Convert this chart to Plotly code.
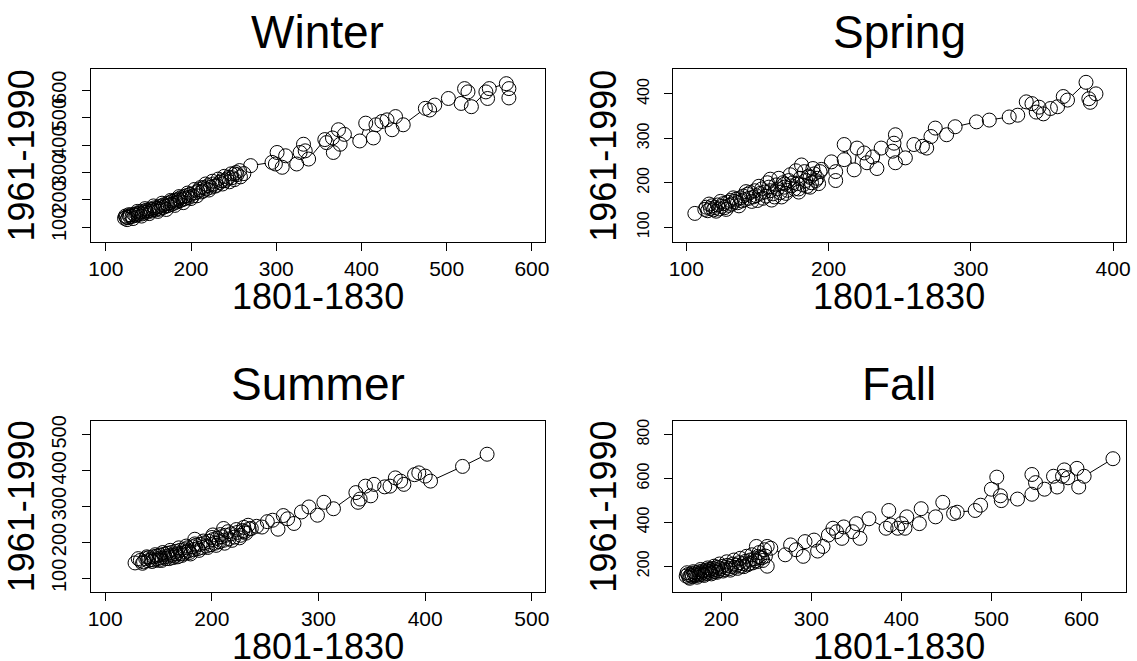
import plotly.graph_objects as go

# ---------------- data ----------------
winter_x = [122,123,124,125,126,128,129,131,133,135,136,138,140,141,143,145,147,148,150,152,153,155,157,158,160,162,163,165,167,168,170,172,173,175,177,178,180,182,183,185,187,188,190,192,193,195,197,199,202,205,208,210,212,215,218,220,223,226,230,234,237,240,242,245,248,251,254,258,262,
            127,132,137,142,146,151,156,161,166,171,176,181,186,191,196,200,204,207,211,214,217,221,225,228,232,236,239,244,247,253,
            251,257,270,295,299,301,307,311,324,328,332,334,338,357,359,366,367,373,375,380,398,405,414,417,424,430,436,440,449,475,480,486,502,517,521,525,529,546,548,550,570,573,573]
winter_y = [133,141,137,128,135,139,145,140,147,143,150,146,152,158,149,156,162,155,160,167,159,165,171,163,169,175,166,178,172,182,176,186,179,190,184,195,188,199,192,203,197,208,201,212,205,216,209,220,214,226,231,238,229,245,240,252,246,258,253,264,258,270,276,266,281,274,292,284,296,
            146,132,158,141,168,150,178,158,188,165,198,180,212,190,225,205,238,215,245,232,258,236,268,250,276,270,286,282,295,300,
            295,307,325,337,331,373,319,361,331,373,403,379,349,420,409,426,373,456,403,439,415,480,426,474,486,492,456,504,474,534,528,546,570,552,606,594,540,594,570,606,624,606,572]

spring_x = [106,113,114,115,117,118,119,120,122,123,125,126,127,129,130,131,132,134,135,136,138,139,140,141,143,144,145,147,148,149,150,152,153,155,156,158,159,161,163,164,166,168,169,171,172,174,176,178,180,182,184,186,188,190,192,194,
            116,121,124,128,133,137,142,146,151,154,157,162,165,170,173,175,179,183,185,189,191,193,
            159,160,167,169,177,179,181,187,187,195,202,205,205,211,211,218,220,225,227,231,234,237,245,246,247,247,254,260,266,269,272,275,283,289,304,313,327,333,339,343,346,348,351,356,361,365,368,381,383,384,388]
spring_y = [131,140,145,137,142,148,139,144,150,141,147,153,144,156,149,160,152,158,163,155,166,159,170,162,174,165,178,168,182,171,160,176,186,179,170,190,182,175,195,186,178,200,190,183,205,193,186,198,210,195,205,215,200,220,210,225,
            152,136,158,140,166,148,180,158,192,165,200,168,210,176,218,200,186,225,192,232,205,198,
            208,161,168,197,227,179,240,190,212,230,247,205,225,252,286,229,278,267,245,258,232,278,271,289,308,245,256,286,282,278,304,323,308,326,337,341,348,352,382,378,359,370,355,367,371,394,386,426,389,381,400]

summer_x = [128,133,136,138,140,141,143,145,146,148,149,151,152,153,155,156,158,159,160,162,163,164,166,167,168,170,171,172,174,175,177,178,180,182,183,185,187,189,191,193,195,197,199,201,203,205,207,209,211,213,216,218,221,224,227,229,232,235,
            131,135,139,144,147,150,154,157,161,165,169,173,176,179,184,188,192,196,200,204,208,212,215,219,223,226,230,
            184,201,211,231,234,237,242,247,252,257,262,267,271,277,284,291,299,305,314,335,337,339,344,349,352,362,367,372,377,380,390,394,400,405,435,458]
summer_y = [143,150,146,155,149,158,152,160,151,162,155,165,157,150,167,160,170,162,155,172,165,158,175,168,160,178,170,164,180,173,185,176,168,188,180,192,183,195,186,199,190,203,194,208,198,212,202,216,206,220,210,224,215,228,220,233,226,238,
            155,142,160,147,166,150,172,155,178,162,185,168,190,172,196,178,204,186,214,192,222,198,230,206,236,213,242,
            209,221,239,230,248,239,245,243,258,262,237,275,266,253,285,299,276,312,294,339,312,321,357,330,362,355,357,380,371,362,389,394,385,371,412,446]

fall_x = [161,163,164,166,167,168,170,171,172,174,175,176,178,179,180,182,183,184,186,187,188,190,191,193,194,196,197,199,201,203,205,207,209,211,213,215,217,220,222,224,227,229,232,235,237,240,243,246,249,
          162,165,169,173,177,181,185,189,192,195,198,202,206,210,214,218,221,225,228,231,234,238,242,245,248,
          239,241,251,255,251,271,277,283,291,293,303,307,313,319,324,328,334,336,346,350,354,364,383,386,388,396,400,404,406,420,422,438,446,458,462,482,488,500,506,510,511,529,545,545,549,559,569,573,579,581,585,595,597,603,635]
fall_y = [155,162,150,158,166,153,161,170,157,165,174,160,169,178,163,173,182,167,177,186,171,181,190,175,185,195,179,189,199,184,194,204,189,199,210,195,205,216,200,211,222,206,228,215,234,221,240,226,246,
          170,145,175,150,185,158,192,165,200,172,210,178,220,182,228,190,236,198,245,212,252,225,262,238,275,
          290,245,290,282,200,252,297,275,245,312,319,269,290,342,373,357,327,379,357,394,327,416,373,454,388,373,394,373,425,394,462,425,491,440,446,454,478,551,606,521,499,506,528,618,581,551,610,561,610,639,603,646,561,610,690]

titles = ["Winter", "Spring", "Summer", "Fall"]
x_ticks = [[100, 200, 300, 400, 500, 600], [100, 200, 300, 400], [100, 200, 300, 400, 500], [200, 300, 400, 500, 600]]
y_ticks = [[100, 200, 300, 400, 500, 600], [100, 200, 300, 400], [100, 200, 300, 400, 500], [200, 400, 600, 800]]
x_label = "1801-1830"
y_label = "1961-1990"

# ---------------- layout settings ----------------
W, H = 1137, 661
FONT = "Liberation Sans, Arial, sans-serif"
series = [(winter_x, winter_y), (spring_x, spring_y), (summer_x, summer_y), (fall_x, fall_y)]
x_ranges = [[83, 615], [90.4, 408.8], [87, 512], [146, 649]]
y_ranges = [[47, 676], [67, 455], [63, 538], [84, 861]]
ytick_sizes = [20, 16, 20, 16]
# boxes in pixels: (left, right, top, bottom)
boxes = [(88, 545, 64, 238), (674, 1130.5, 64, 238), (88, 545, 419, 591), (674, 1130.5, 419, 591)]

fig = go.Figure()
annotations = []
for i in range(4):
    sx = "" if i == 0 else str(i + 1)
    xs, ys = series[i]
    pts = sorted(zip(xs, ys))
    px = [p[0] for p in pts]
    py = [p[1] for p in pts]
    xa, ya = "x" + sx, "y" + sx
    fig.add_trace(go.Scatter(x=px, y=py, mode="lines", line=dict(color="black", width=1),
                             xaxis=xa, yaxis=ya, hoverinfo="skip", showlegend=False))
    fig.add_trace(go.Scatter(x=px, y=py, mode="markers",
                             marker=dict(symbol="circle", size=13, color="white", line=dict(width=0)),
                             xaxis=xa, yaxis=ya, hoverinfo="skip", showlegend=False))
    fig.add_trace(go.Scatter(x=px, y=py, mode="markers",
                             marker=dict(symbol="circle-open", size=14, color="black", line=dict(width=1)),
                             xaxis=xa, yaxis=ya, hoverinfo="skip", showlegend=False))
    l, r, t, b = boxes[i]
    common = dict(showgrid=False, zeroline=False, showline=True, linecolor="black", linewidth=1.3,
                  mirror=True, ticks="outside", ticklen=8, tickwidth=1, tickcolor="black")
    fig.update_layout(**{
        "xaxis" + sx: dict(domain=[l / W, r / W], range=x_ranges[i], tickvals=x_ticks[i],
                           ticktext=[str(v) for v in x_ticks[i]], anchor=ya,
                           tickfont=dict(family=FONT, size=21, color="black"),
                           ticklabelstandoff=0, **common),
        "yaxis" + sx: dict(domain=[1 - b / H, 1 - t / H], range=y_ranges[i], tickvals=y_ticks[i],
                           ticktext=[str(v) for v in y_ticks[i]], anchor=xa, tickangle=-90,
                           tickfont=dict(family=FONT, size=ytick_sizes[i], color="black"),
                           ticklabelstandoff=8, **common),
    })
    cx = (l + r) / 2
    cy = (t + b) / 2
    annotations.append(dict(text=titles[i], x=cx / W, y=1 - (t - 38) / H, xref="paper", yref="paper",
                            xanchor="center", yanchor="middle", showarrow=False,
                            font=dict(family=FONT, size=46, color="black")))
    annotations.append(dict(text=x_label, x=cx / W, y=1 - (b + 55) / H, xref="paper", yref="paper",
                            xanchor="center", yanchor="middle", showarrow=False,
                            font=dict(family=FONT, size=36, color="black")))
    annotations.append(dict(text=y_label, x=(l - 70) / W, y=1 - cy / H, xref="paper", yref="paper",
                            xanchor="center", yanchor="middle", showarrow=False, textangle=-90,
                            font=dict(family=FONT, size=36, color="black")))

fig.update_layout(width=W, height=H, autosize=False, margin=dict(l=0, r=0, t=0, b=0),
                  paper_bgcolor="white", plot_bgcolor="white", annotations=annotations,
                  showlegend=False)
fig.write_html("out.html", config={"displayModeBar": False},
               post_script="document.body.style.margin='0px';document.body.style.overflow='hidden';")
